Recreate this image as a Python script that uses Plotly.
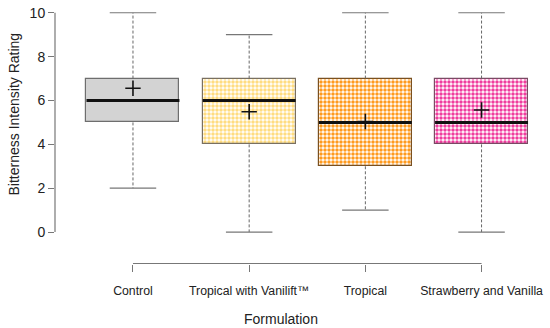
import plotly.graph_objects as go

categories = ["Control", "Tropical with Vanilift™", "Tropical", "Strawberry and Vanilla"]
lower_whisker = [2, 0, 1, 0]
q1 = [5, 4, 3, 4]
median = [6, 6, 5, 5]
q3 = [7, 7, 7, 7]
upper_whisker = [10, 9, 10, 10]
means = [6.56, 5.49, 5.04, 5.57]
y_ticks = [0, 2, 4, 6, 8, 10]

fill_colors = ["#d3d3d3", "#ffdc80", "#ff9a1e", "#f03c9e"]
border_colors = ["#6e6e6e", "#7a7060", "#7a5020", "#7a4a64"]
patterned = [False, True, True, True]

pos = list(range(1, len(categories) + 1))
BOX_W = 0.8
CAP_W = 0.4
AX_GRAY = "#777777"
WH_GRAY = "#666666"

fig = go.Figure()

# boxes
for i, c in enumerate(categories):
    marker = dict(color=fill_colors[i], line=dict(color=border_colors[i], width=1.2))
    if patterned[i]:
        marker = dict(
            color="white",
            line=dict(color=border_colors[i], width=1.2),
            pattern=dict(shape=".", size=4, solidity=0.6,
                         fgcolor=fill_colors[i], bgcolor="white", fillmode="replace"),
        )
    fig.add_trace(go.Bar(x=[pos[i]], y=[q3[i] - q1[i]], base=[q1[i]], width=BOX_W,
                         marker=marker, showlegend=False, hoverinfo="skip"))

# whiskers (dashed) and caps
for i in range(len(categories)):
    p = pos[i]
    fig.add_trace(go.Scatter(x=[p, p, None, p, p], y=[q3[i], upper_whisker[i], None, q1[i], lower_whisker[i]],
                             mode="lines", line=dict(color=WH_GRAY, width=1, dash="3px,2px"),
                             showlegend=False, hoverinfo="skip"))
    fig.add_trace(go.Scatter(x=[p - CAP_W / 2, p + CAP_W / 2, None, p - CAP_W / 2, p + CAP_W / 2],
                             y=[upper_whisker[i], upper_whisker[i], None, lower_whisker[i], lower_whisker[i]],
                             mode="lines", line=dict(color=AX_GRAY, width=1.2),
                             showlegend=False, hoverinfo="skip"))
    fig.add_trace(go.Scatter(x=[p - BOX_W / 2, p + BOX_W / 2], y=[median[i], median[i]],
                             mode="lines", line=dict(color="#111111", width=3),
                             showlegend=False, hoverinfo="skip"))

# means
fig.add_trace(go.Scatter(x=pos, y=means, mode="markers",
                         marker=dict(symbol="cross-thin", size=11, line=dict(color="#111111", width=1.6)),
                         showlegend=False, hoverinfo="skip"))

# axis lines (R style, spanning first to last tick)
fig.add_shape(type="line", xref="paper", yref="y", x0=0, x1=0, y0=y_ticks[0], y1=y_ticks[-1],
              line=dict(color=AX_GRAY, width=1.2))
fig.add_shape(type="line", xref="x", yref="paper", x0=pos[0], x1=pos[-1], y0=0.002, y1=0.002,
              line=dict(color=AX_GRAY, width=1.2))

# axis titles
fig.add_annotation(text="Bitterness Intensity Rating", xref="paper", yref="paper",
                   x=0, xshift=-42, y=0.575, textangle=-90, showarrow=False,
                   xanchor="center", yanchor="middle", font=dict(size=14))
fig.add_annotation(text="Formulation", xref="paper", yref="paper",
                   x=0.4556, y=0, yshift=-55, showarrow=False,
                   xanchor="center", yanchor="middle", font=dict(size=14))

font = "Liberation Sans, Arial, Helvetica, sans-serif"
fig.update_layout(
    width=550, height=328,
    margin=dict(l=55, r=0, t=4, b=64),
    plot_bgcolor="white", paper_bgcolor="white",
    font=dict(family=font, color="#222222", size=13),
    bargap=0,
    xaxis=dict(range=[0.329, 4.589], tickvals=pos, ticktext=categories, automargin=False,
               anchor="free", position=0, showline=False, showgrid=False, zeroline=False,
               ticks="outside", ticklen=7, tickcolor=AX_GRAY, tickwidth=1.2,
               ticklabelstandoff=8, tickfont=dict(size=12.3)),
    yaxis=dict(range=[-0.4, 10.4], domain=[0.089, 1], tickvals=y_ticks, automargin=False,
               showline=False, showgrid=False, zeroline=False,
               ticks="outside", ticklen=6, tickcolor=AX_GRAY, tickwidth=1.2,
               tickfont=dict(size=14)),
)

fig.write_html("out.html", config={"displayModeBar": False},
               post_script="document.body.style.margin='0';document.body.style.overflow='hidden';")
